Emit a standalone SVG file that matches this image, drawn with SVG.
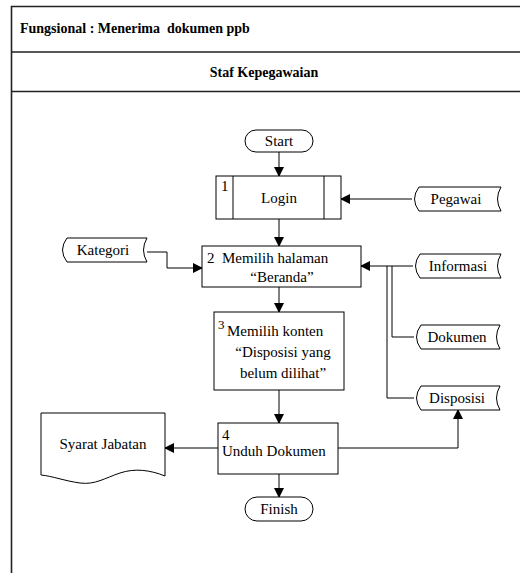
<svg xmlns="http://www.w3.org/2000/svg" width="520" height="573" viewBox="0 0 520 573">
<style>
text{font-family:"Liberation Serif",Tinos,"Times New Roman","DejaVu Serif",serif;font-size:15px;fill:#000}
.b{font-weight:bold;font-size:14px;white-space:pre}
.s{fill:#fff;stroke:#000;stroke-width:1}
.f{fill:none;stroke:#222;stroke-width:1.6}
.c{fill:none;stroke:#000;stroke-width:1}
.m{text-anchor:middle}
</style>
<defs>
<marker id="a" markerWidth="10" markerHeight="10" refX="9" refY="5" orient="auto" markerUnits="userSpaceOnUse">
<path d="M0,0 L10,5 L0,10 Z" fill="#000"/>
</marker>
</defs>
<g id="frame">
<path class="f" d="M11.5,573 V6.5 H520 M11.5,52 H520 M11.5,91.5 H520"/>
<text class="b" x="20" y="33" xml:space="preserve">Fungsional : Menerima  dokumen ppb</text>
<text class="b m" x="264" y="77">Staf Kepegawaian</text>
</g>
<g id="connectors">
<path class="c" d="M279,152 V176" marker-end="url(#a)"/>
<path class="c" d="M412,199 H341" marker-end="url(#a)"/>
<path class="c" d="M279,219 V246" marker-end="url(#a)"/>
<path class="c" d="M147,252 H167 V268 H202" marker-end="url(#a)"/>
<path class="c" d="M413,266 H361" marker-end="url(#a)"/>
<path class="c" d="M392,266 V337 H414"/>
<path class="c" d="M387,266 V398 H414"/>
<path class="c" d="M279,287 V312" marker-end="url(#a)"/>
<path class="c" d="M279,390 V423" marker-end="url(#a)"/>
<path class="c" d="M218,448 H165" marker-end="url(#a)"/>
<path class="c" d="M338,448 H458 V410" marker-end="url(#a)"/>
<path class="c" d="M279,474 V497" marker-end="url(#a)"/>
</g>
<g id="start">
<rect class="s" x="245" y="130" width="68" height="22" rx="11"/>
<text class="m" x="279" y="146">Start</text>
</g>
<g id="login">
<rect class="s" x="216" y="176" width="125" height="43"/>
<path class="c" d="M233,176 V219 M324,176 V219"/>
<text x="221" y="191">1</text>
<text class="m" x="279" y="203">Login</text>
</g>
<g id="pegawai">
<path class="s" d="M419,187 H501 Q494,199 501,211 H419 Q410,199 419,187 Z"/>
<text class="m" x="456" y="204">Pegawai</text>
</g>
<g id="kategori">
<path class="s" d="M67,238 H147 Q140,250 147,262 H67 Q58,250 67,238 Z"/>
<text class="m" x="103" y="255">Kategori</text>
</g>
<g id="beranda">
<rect class="s" x="202" y="246" width="159" height="41"/>
<text x="207" y="263" xml:space="preserve" style="white-space:pre">2  Memilih halaman</text>
<text class="m" x="282" y="282">“Beranda”</text>
</g>
<g id="informasi">
<path class="s" d="M420,254 H501 Q494,266 501,278 H420 Q411,266 420,254 Z"/>
<text class="m" x="458" y="271">Informasi</text>
</g>
<g id="dokumen">
<path class="s" d="M421,325 H500 Q493,337 500,349 H421 Q412,337 421,325 Z"/>
<text class="m" x="457" y="342">Dokumen</text>
</g>
<g id="disposisi">
<path class="s" d="M421,386 H500 Q493,398 500,410 H421 Q412,398 421,386 Z"/>
<text class="m" x="457" y="403">Disposisi</text>
</g>
<g id="konten">
<rect class="s" x="214" y="312" width="130" height="78"/>
<text x="218" y="329" style="font-size:13px">3</text>
<text x="227" y="336">Memilih konten</text>
<text class="m" x="283" y="357">“Disposisi yang</text>
<text class="m" x="283" y="378">belum dilihat”</text>
</g>
<g id="unduh">
<rect class="s" x="218" y="423" width="120" height="51"/>
<text x="222" y="440">4</text>
<text x="222" y="456">Unduh Dokumen</text>
</g>
<g id="syarat">
<path class="s" d="M41,413 H165 V476 C150,470 135,468 120,473 C105,478 95,485 80,483 C65,481 52,476 41,475 Z"/>
<text class="m" x="103" y="449">Syarat Jabatan</text>
</g>
<g id="finish">
<rect class="s" x="245" y="497" width="68" height="24" rx="12"/>
<text class="m" x="279" y="514">Finish</text>
</g>
</svg>
